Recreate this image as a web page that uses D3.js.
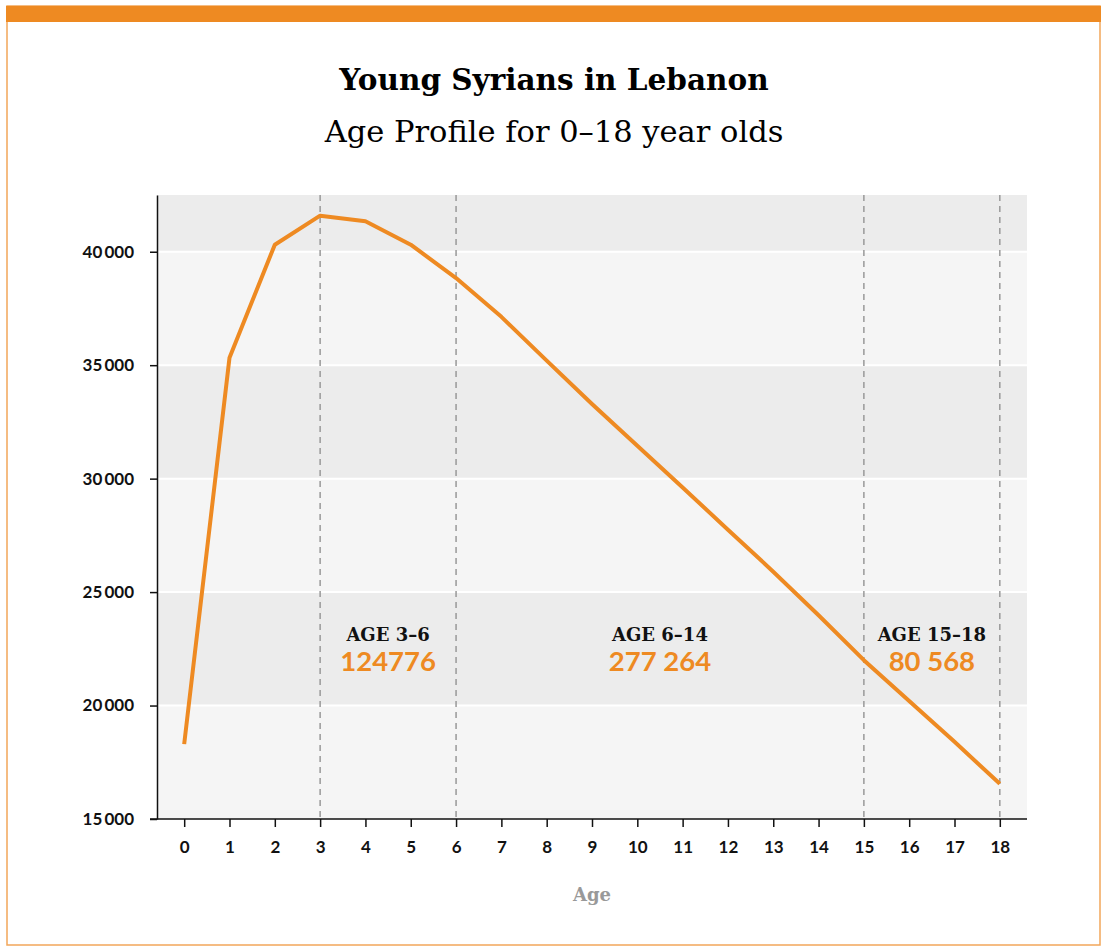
<!DOCTYPE html>
<html>
<head>
<meta charset="utf-8">
<script src="https://cdn.jsdelivr.net/npm/d3@7"></script>
<style>
    body { margin: 0; background: #fff; }
    svg { display: block; }
    .tick text { font-family: Lato, "Open Sans", sans-serif; font-weight: 700; font-size: 17px; fill: #111; }
</style>
</head>
<body>
<div id="chart"></div>
<script>
// ages 0-18 and the number of young Syrians per single year of age
const ages = [0, 1, 2, 3, 4, 5, 6, 7, 8, 9, 10, 11, 12, 13, 14, 15, 16, 17, 18];
const population = [18300, 35330, 40310, 41590, 41340, 40310, 38840, 37130, 35200, 33290,
    31450, 29610, 27750, 25900, 23980, 22000, 20200, 18400, 16550];

const yTicks = [15000, 20000, 25000, 30000, 35000, 40000];
const dividers = [3, 6, 15, 18];

// the three age groups and their totals
const groupNames = ['AGE 3–6', 'AGE 6–14', 'AGE 15–18'];
const groupFrom = [3, 6, 15];
const groupTo = [6, 15, 18];
const groupTotals = ['124776', '277 264', '80 568'];

const width = 1101,
    height = 946,
    orange = '#ee8a22';

let svg = d3.select('#chart').append('svg')
    .attr('width', width)
    .attr('height', height);

// frame + top bar
svg.append('rect')
    .attr('x', 7).attr('y', 6)
    .attr('width', 1093).attr('height', 939)
    .style('fill', 'none')
    .style('stroke', '#f2a65a')
    .style('stroke-width', 1.5);
svg.append('rect')
    .attr('x', 6).attr('y', 6)
    .attr('width', width - 6).attr('height', 16)
    .style('fill', orange);

// titles
svg.append('text')
    .attr('x', 554).attr('y', 90)
    .attr('text-anchor', 'middle')
    .style('font-family', '"DejaVu Serif", serif')
    .style('font-weight', 'bold')
    .style('font-size', '29.5px')
    .text('Young Syrians in Lebanon');
svg.append('text')
    .attr('x', 554).attr('y', 142)
    .attr('text-anchor', 'middle')
    .style('font-family', '"DejaVu Serif", serif')
    .style('font-size', '30.5px')
    .text('Age Profile for 0–18 year olds');

let x = d3.scaleLinear().domain([-0.6, 18.6]).range([157, 1027]),
    y = d3.scaleLinear().domain([15000, 42500]).range([819, 195]);

// alternating bands
let bandEdges = yTicks.concat([42500]);
svg.append('g').selectAll('rect')
    .data(yTicks)
    .enter()
    .append('rect')
    .attr('x', x.range()[0])
    .attr('width', x.range()[1] - x.range()[0])
    .attr('y', function(d, i) { return y(bandEdges[i + 1]); })
    .attr('height', function(d, i) { return y(d) - y(bandEdges[i + 1]); })
    .style('fill', function(d, i) { return i % 2 == 0 ? '#f5f5f5' : '#ececec'; });

// white gridlines
svg.append('g').selectAll('line')
    .data(yTicks.slice(1))
    .enter()
    .append('line')
    .attr('x1', x.range()[0]).attr('x2', x.range()[1])
    .attr('y1', function(d) { return y(d); })
    .attr('y2', function(d) { return y(d); })
    .style('stroke', '#fff')
    .style('stroke-width', 2);

// dashed dividers
svg.append('g').selectAll('line')
    .data(dividers)
    .enter()
    .append('line')
    .attr('x1', function(d) { return x(d); })
    .attr('x2', function(d) { return x(d); })
    .attr('y1', y(42500)).attr('y2', y(15000))
    .style('stroke', '#999')
    .style('stroke-width', 1.5)
    .style('stroke-dasharray', '6,5');

// group labels
let groups = svg.append('g').selectAll('g')
    .data(groupNames)
    .enter()
    .append('g')
    .attr('transform', function(d, i) {
        return 'translate(' + (x(groupFrom[i]) + x(groupTo[i])) / 2 + ',0)';
    });
groups.append('text')
    .attr('y', 641)
    .attr('text-anchor', 'middle')
    .style('font-family', '"DejaVu Serif", serif')
    .style('font-weight', 'bold')
    .style('font-size', '18px')
    .style('fill', '#111')
    .text(function(d) { return d; });
groups.append('text')
    .attr('y', 671)
    .attr('text-anchor', 'middle')
    .style('font-family', 'Lato, sans-serif')
    .style('font-weight', 700)
    .style('font-size', '27.5px')
    .style('fill', orange)
    .text(function(d, i) { return groupTotals[i]; });

// the line
let line = d3.line()
    .x(function(d, i) { return x(ages[i]); })
    .y(function(d) { return y(d); });
svg.append('path')
    .datum(population)
    .attr('d', line)
    .style('fill', 'none')
    .style('stroke', orange)
    .style('stroke-width', 4)
    .style('stroke-linejoin', 'round');

// axes
let fmt = d3.formatLocale({ decimal: '.', thousands: '\u2009', grouping: [3], currency: ['', ''] }).format(',');

let xAxis = svg.append('g')
    .attr('transform', 'translate(0,' + y(15000) + ')')
    .call(d3.axisBottom(x).tickValues(ages).tickFormat(d3.format('d')).tickSize(8).tickPadding(14).tickSizeOuter(0));
xAxis.select('.domain').attr('d', 'M150,0H' + x.range()[1]);

let yAxis = svg.append('g')
    .attr('transform', 'translate(' + x.range()[0] + ',0)')
    .call(d3.axisLeft(y).tickValues(yTicks).tickFormat(fmt).tickSize(7).tickPadding(16).tickSizeOuter(0));

svg.selectAll('.domain, .tick line').style('stroke', '#111').style('stroke-width', 1.5);

// axis title
svg.append('text')
    .attr('x', (x.range()[0] + x.range()[1]) / 2)
    .attr('y', 901)
    .attr('text-anchor', 'middle')
    .style('font-family', '"DejaVu Serif", serif')
    .style('font-weight', 'bold')
    .style('font-size', '18px')
    .style('fill', '#999')
    .text('Age');
</script>
</body>
</html>
